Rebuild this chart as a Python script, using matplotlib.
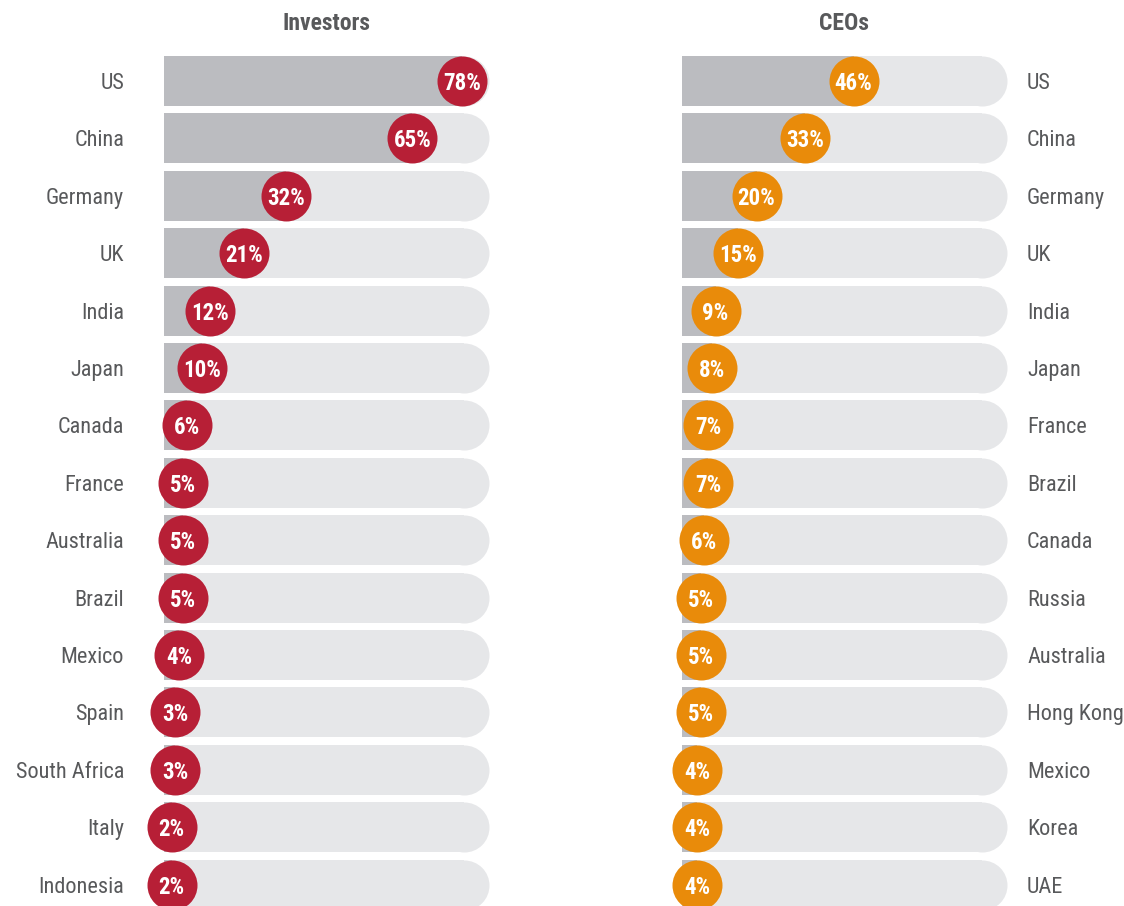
import matplotlib
matplotlib.use("Agg")
from matplotlib import pyplot as plt
import numpy as np

# data
inv_countries = ["US", "China", "Germany", "UK", "India", "Japan", "Canada", "France",
                 "Australia", "Brazil", "Mexico", "Spain", "South Africa", "Italy", "Indonesia"]
inv_values = [78, 65, 32, 21, 12, 10, 6, 5, 5, 5, 4, 3, 3, 2, 2]

ceo_countries = ["US", "China", "Germany", "UK", "India", "Japan", "France", "Brazil",
                 "Canada", "Russia", "Australia", "Hong Kong", "Mexico", "Korea", "UAE"]
ceo_values = [46, 33, 20, 15, 9, 8, 7, 7, 6, 5, 5, 5, 4, 4, 4]

plt.rcParams['font.family'] = ['Roboto Condensed', 'Liberation Sans', 'DejaVu Sans']

TRACK_COLOR = '#e6e7e9'
FILL_COLOR = '#bbbcc0'
TEXT_COLOR = '#58595b'

W, H, DPI = 1124, 906, 100
ROW = 57.4        # pixels per row
TOP = 81          # pixel y of first row centre
TRACK_PX = 325    # track length in px
DOT = 50          # circle diameter in px
NUDGE = 2.5 / ROW  # text baseline nudge

fig = plt.figure(figsize=(W / DPI, H / DPI), dpi=DPI)


def panel(x0_px, px, countries, values, colour, title, side):
    track = TRACK_PX / px
    xmax = 92
    ax = fig.add_axes([x0_px / W, 0, xmax * px / W, 1])
    ax.set_xlim(0, xmax)
    ax.set_ylim((H - TOP) / ROW, -TOP / ROW)
    ax.axis("off")

    rows = np.arange(len(countries))
    r = DOT / 2 / px
    h = DOT / ROW
    s = (DOT * 72 / DPI) ** 2

    # light track with round right end
    ax.barh(rows, track - r, height=h, color=TRACK_COLOR, lw=0)
    ax.scatter([track - r] * len(rows), rows, s=s, color=TRACK_COLOR, lw=0)
    # grey fill up to the value
    ax.barh(rows, values, height=h, color=FILL_COLOR, lw=0)
    # value bubble
    ax.scatter(values, rows, s=s, color=colour, lw=0, zorder=3, clip_on=False)
    for y, v in zip(rows, values):
        ax.text(v, y + NUDGE, f"{v}%", color="white", fontsize=16.5, fontweight="bold",
                ha="center", va="center", zorder=4)

    for y, c in zip(rows, countries):
        if side == "left":
            ax.text(-40 / px, y + NUDGE, c, ha="right", va="center", fontsize=16, color=TEXT_COLOR)
        else:
            ax.text(track + 20 / px, y + NUDGE, c, ha="left", va="center", fontsize=16, color=TEXT_COLOR)

    ax.text(track / 2, -58 / ROW, title, ha="center", va="center",
            fontsize=17, fontweight="bold", color=TEXT_COLOR)


panel(164, 3.82, inv_countries, inv_values, '#b71f36', "Investors", "left")
panel(682, 3.73, ceo_countries, ceo_values, '#e98b0a', "CEOs", "right")

fig.savefig("out.png", dpi=DPI, facecolor="white")
